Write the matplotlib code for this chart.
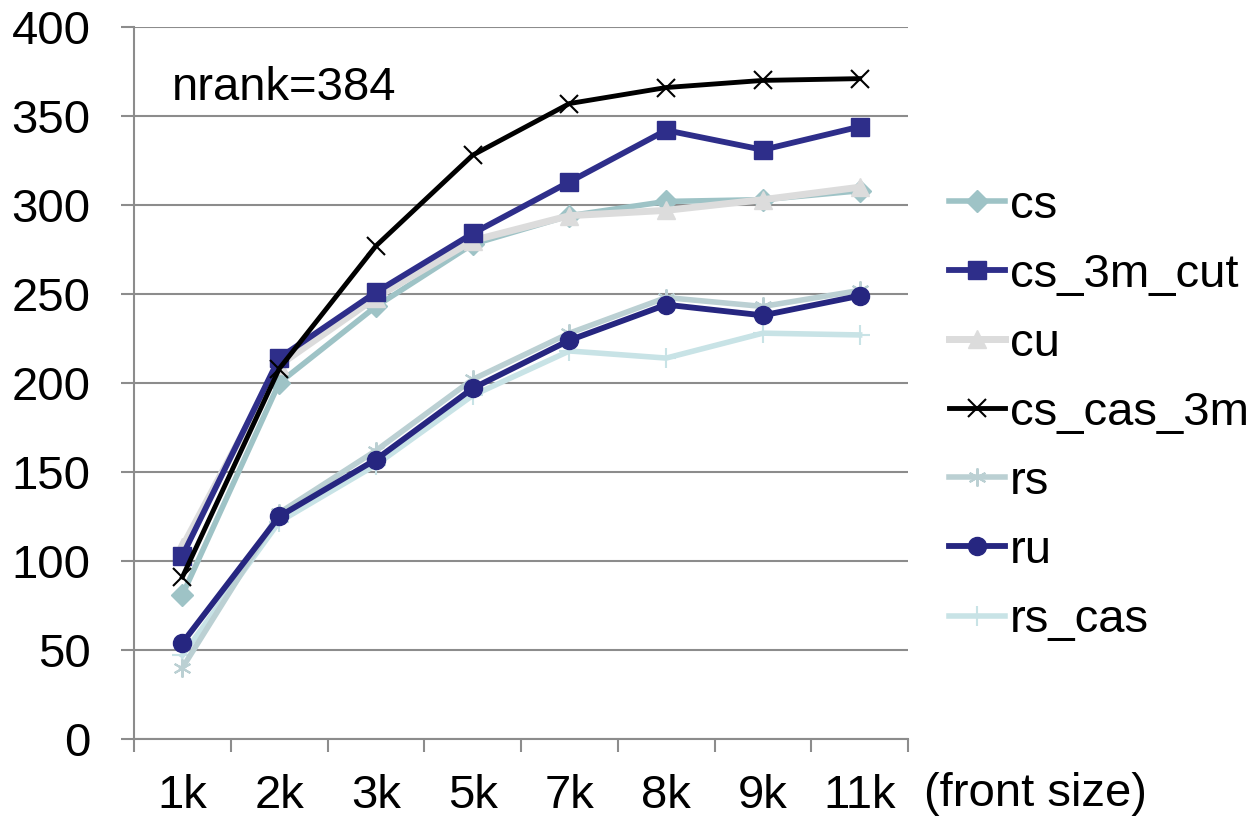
import matplotlib
matplotlib.use("Agg")
import matplotlib.pyplot as plt
import numpy as np

plt.rcParams['font.family'] = ['Liberation Sans', 'DejaVu Sans']

categories = ["1k", "2k", "3k", "5k", "7k", "8k", "9k", "11k"]
cs = [81, 200, 243, 278, 294, 302, 303, 308]
cs_3m_cut = [103, 214, 251, 284, 313, 342, 331, 344]
cu = [108, 210, 248, 280, 294, 297, 303, 310]
cs_cas_3m = [91, 208, 277, 328, 357, 366, 370, 371]
rs = [40, 127, 162, 202, 228, 248, 243, 252]
ru = [54, 125, 157, 197, 224, 244, 238, 249]
rs_cas = [47, 122, 154, 193, 218, 214, 228, 227]

series = [
    ("cs", cs, "#9EC3C6", "D", 11, 4),
    ("cs_3m_cut", cs_3m_cut, "#2E2E8A", "s", 13, 4.2),
    ("cu", cu, "#DCDCDC", "^", 13, 5),
    ("cs_cas_3m", cs_cas_3m, "#000000", "x", 13, 3.5),
    ("rs", rs, "#BBD0D3", (6, 2, 0), 13, 4),
    ("ru", ru, "#262680", "o", 13, 4.2),
    ("rs_cas", rs_cas, "#C8E3E6", "+", 14, 4),
]

FS = 34

fig = plt.figure(figsize=(12.54, 8.21), dpi=100)
ax = fig.add_axes([0.1069, 0.0999, 0.6172, 0.8672])

x = np.arange(len(categories))
zorders = {"cs": 3, "cs_3m_cut": 4, "cu": 3.5, "cs_cas_3m": 5, "rs": 3, "ru": 4, "rs_cas": 2.5}
for name, vals, col, mk, ms, lw in series:
    mew = 1.5 if mk in ("x", "+") or isinstance(mk, tuple) else 1
    ax.plot(x, vals, color=col, marker=mk, markersize=ms, linewidth=lw,
            markeredgewidth=mew, markeredgecolor=col, markerfacecolor=col,
            label=name, zorder=zorders[name], solid_joinstyle='round')

ax.set_xlim(-0.5, len(categories) - 0.5)
ax.set_ylim(0, 400)
ax.set_yticks(np.arange(0, 401, 50))
ax.set_xticks(x)
ax.set_xticklabels(categories)
ax.set_xticks(np.arange(-0.5, len(categories), 1), minor=True)
ax.tick_params(axis='x', which='major', length=0, labelsize=FS, pad=25)
ax.tick_params(axis='x', which='minor', length=9.4, color='#8C8C8C', width=1.5)
ax.tick_params(axis='y', length=9.4, color='#8C8C8C', width=1.5, labelsize=FS, pad=22)
ax.grid(axis='y', color='#8C8C8C', linewidth=1.5, zorder=0)
ax.set_axisbelow(True)
for s in ['top', 'right']:
    ax.spines[s].set_visible(False)
for s in ['left', 'bottom']:
    ax.spines[s].set_color('#8C8C8C')
    ax.spines[s].set_linewidth(1.5)

ax.text(0.049, 0.915, "nrank=384", transform=ax.transAxes, fontsize=FS, va='center', ha='left')
fig.text(0.737, 1 - 794 / 821, "(front size)", fontsize=FS, ha='left', va='center')

leg = fig.legend(loc='center left', bbox_to_anchor=(0.757, 0.497), frameon=False,
                 fontsize=FS, handlelength=1.17, handletextpad=0.12, labelspacing=0.53,
                 borderaxespad=0, borderpad=0)

fig.savefig("out.png", dpi=100)
